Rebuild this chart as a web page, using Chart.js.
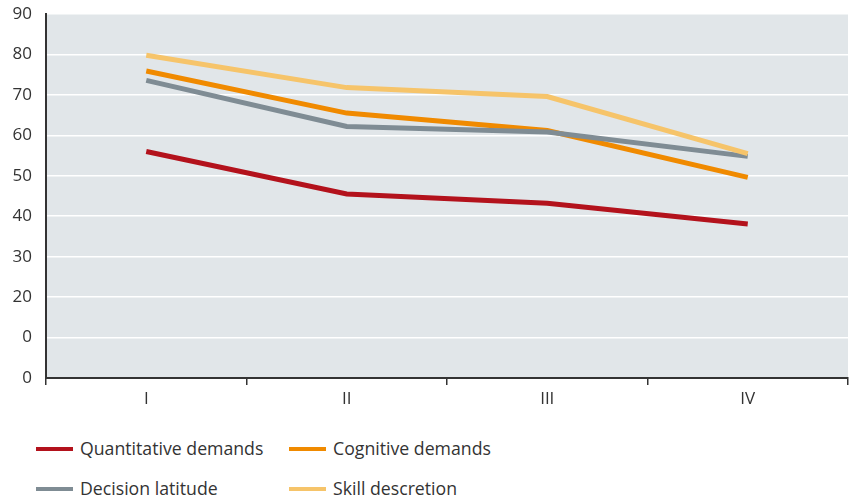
<!DOCTYPE html>
<html>
<head>
<meta charset="utf-8">
<script src="https://cdn.jsdelivr.net/npm/chart.js@4"></script>
<style>
  html, body { margin: 0; padding: 0; background: #fff; }
  #wrap { position: relative; width: 853px; height: 500px; }
  #chart { position: absolute; left: 0; top: 0; }
  #legend { position: absolute; left: 0; top: 428px; width: 853px; font-family: "Open Sans", sans-serif; font-size: 17.7px; color: #333; }
  .item { position: absolute; height: 24px; line-height: 24px; white-space: nowrap; }
  .swatch { position: absolute; left: 0; top: 11px; width: 37px; height: 4px; }
  .lbl { position: absolute; left: 44px; top: 0; }
</style>
</head>
<body>
<div id="wrap">
  <canvas id="chart" width="853" height="420"></canvas>
  <div id="legend"></div>
</div>
<script>
// Dados
const categorias = ["I", "II", "III", "IV"];
const quantitativeDemands = [56, 45.5, 43.2, 38.1];
const cognitiveDemands = [75.9, 65.5, 61.2, 49.6];
const decisionLatitude = [73.6, 62.2, 60.8, 54.8];
const skillDescretion = [79.8, 71.8, 69.6, 55.5];
const yTickLabels = ["0", "0", "20", "30", "40", "50", "60", "70", "80", "90"];

const nomes = ["Quantitative demands", "Cognitive demands", "Decision latitude", "Skill descretion"];
const cores = ["#b3121c", "#f08a00", "#7f8c94", "#f6c46a"];
const series = [quantitativeDemands, cognitiveDemands, decisionLatitude, skillDescretion];
const ordem = [3, 2, 1, 0];

// fundo cinza da área do gráfico
const plotBg = {
    id: "plotBg",
    beforeDraw(chart) {
        const { ctx, chartArea: a } = chart;
        ctx.save();
        ctx.fillStyle = "#e1e6e9";
        ctx.fillRect(a.left, a.top, a.right - a.left, a.bottom - a.top);
        ctx.restore();
    }
};

const ctx = document.getElementById("chart").getContext("2d");
const chart = new Chart(ctx, {
    type: "line",
    data: {
        labels: categorias,
        datasets: series.map((d, i) => ({
            label: nomes[i],
            data: d,
            borderColor: cores[i],
            backgroundColor: cores[i],
            borderWidth: 5,
            pointRadius: 0,
            tension: 0,
            borderCapStyle: "butt",
            order: ordem[i]
        }))
    },
    options: {
        responsive: false,
        animation: false,
        layout: { padding: { top: 14, right: 5, left: 0, bottom: 0 } },
        plugins: {
            legend: { display: false },
            tooltip: { enabled: false }
        },
        scales: {
            x: {
                offset: true,
                grid: {
                    offset: true,
                    drawOnChartArea: false,
                    drawTicks: true,
                    tickLength: 7,
                    color: "#333",
                    lineWidth: 1.5
                },
                border: { display: true, color: "#333", width: 2 },
                ticks: {
                    color: "#333",
                    padding: 4,
                    font: { family: "Open Sans", size: 17 }
                },
                afterFit(scale) { scale.height = 42; scale.paddingLeft = 0; scale.paddingRight = 0; }
            },
            y: {
                min: 0,
                max: 90,
                grid: {
                    color: "#ffffff",
                    lineWidth: 1.5,
                    drawTicks: false
                },
                border: { display: true, color: "#333", width: 2 },
                ticks: {
                    stepSize: 10,
                    color: "#333",
                    padding: 14,
                    font: { family: "Open Sans", size: 17 },
                    callback: (v) => yTickLabels[v / 10]
                },
                afterFit(scale) { scale.width = 46; scale.paddingTop = 0; scale.paddingBottom = 0; }
            }
        }
    },
    plugins: [plotBg]
});

// Legenda em HTML
const legend = document.getElementById("legend");
const posicoes = [[36, 8], [289, 8], [36, 48], [289, 48]];
nomes.forEach((n, i) => {
    const item = document.createElement("div");
    item.className = "item";
    item.style.left = posicoes[i][0] + "px";
    item.style.top = posicoes[i][1] + "px";
    item.innerHTML = '<span class="swatch" style="background:' + cores[i] + '"></span><span class="lbl">' + n + '</span>';
    legend.appendChild(item);
});
</script>
</body>
</html>
